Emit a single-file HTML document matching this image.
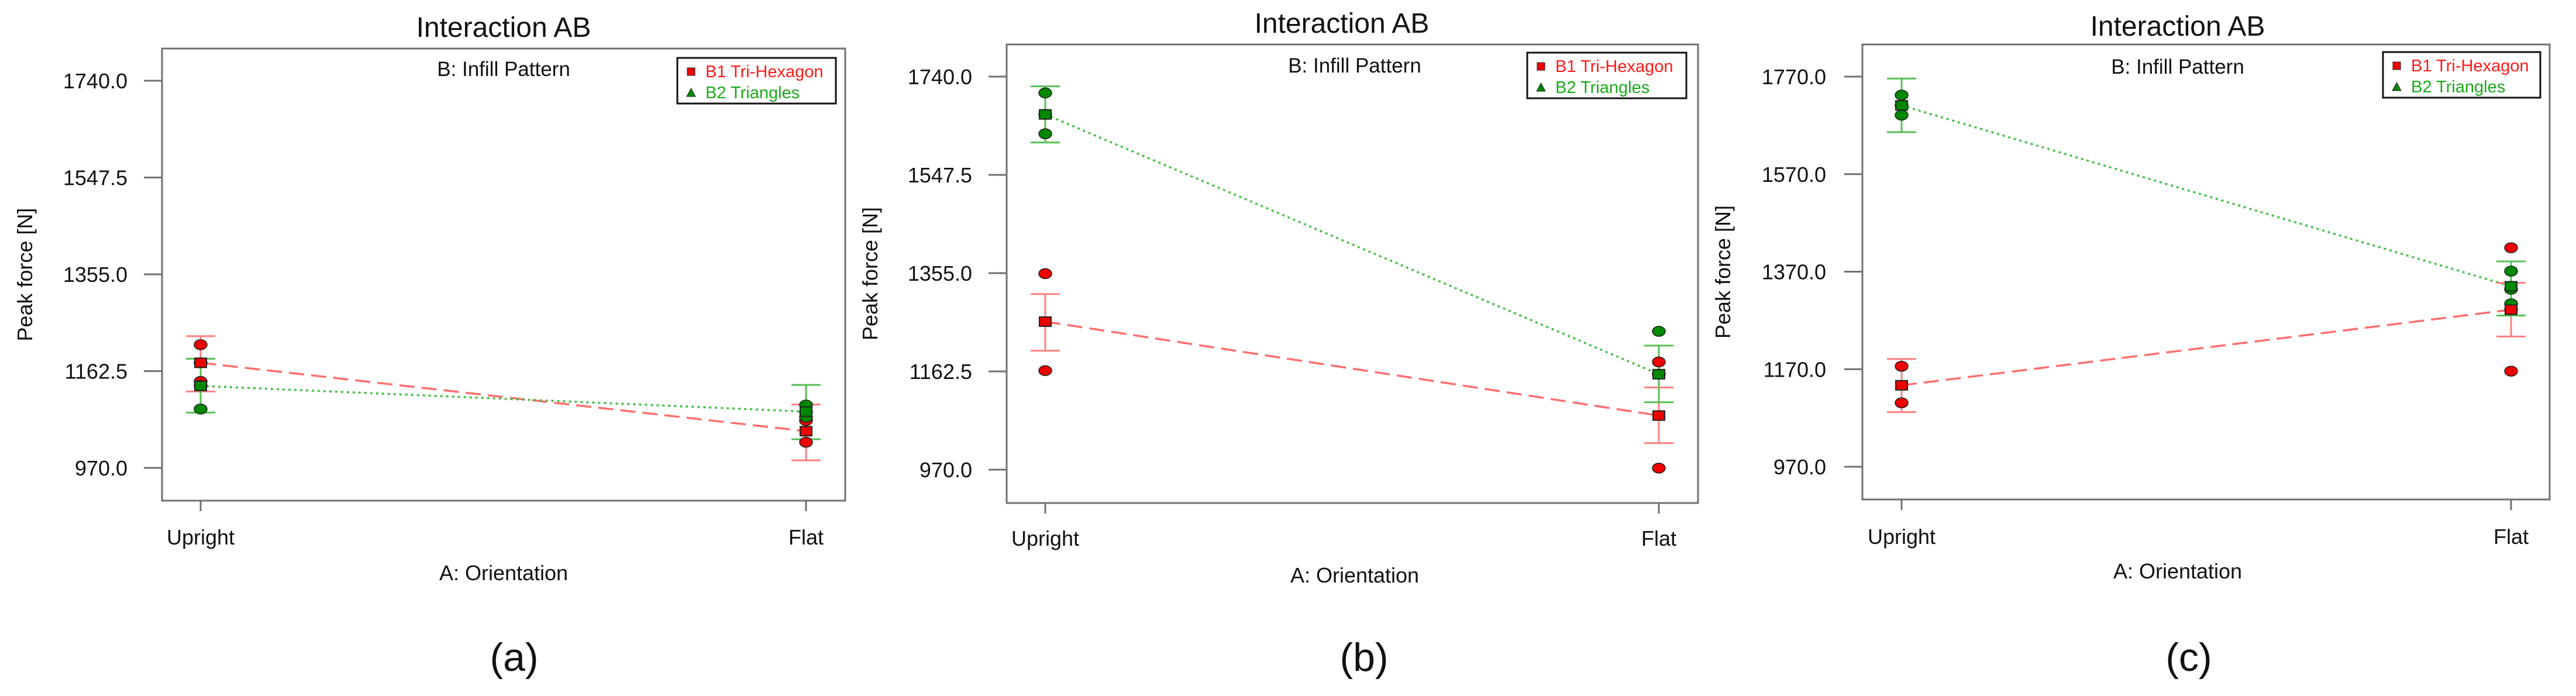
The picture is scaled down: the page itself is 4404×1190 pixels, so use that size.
<!DOCTYPE html>
<html><head><meta charset="utf-8"><style>
html,body{margin:0;padding:0;background:#fff;}
svg{display:block;font-family:"Liberation Sans",sans-serif;}
</style></head><body>
<svg id="fig" width="4404" height="1190" viewBox="0 0 4404 1190"></svg>
<script>
const categories = ["Upright", "Flat"];
const seriesNames = ["B1 Tri-Hexagon", "B2 Triangles"];
const panelLabels = ["(a)", "(b)", "(c)"];
// y-axis ticks per panel
const ticksA = [970, 1162.5, 1355, 1547.5, 1740];
const ticksB = [970, 1162.5, 1355, 1547.5, 1740];
const ticksC = [970, 1170, 1370, 1570, 1770];
// means [Upright, Flat]
const redMeanA = [1179, 1043];
const greenMeanA = [1133, 1082];
const redMeanB = [1260, 1076];
const greenMeanB = [1666, 1157];
const redMeanC = [1137, 1292];
const greenMeanC = [1711, 1340];
// error bars [lo, hi] per category
const redErrA = [[1122, 1232], [985, 1096]];
const greenErrA = [[1080, 1187], [1027, 1135]];
const redErrB = [[1203, 1314], [1022, 1131]];
const greenErrB = [[1611, 1721], [1102, 1213]];
const redErrC = [[1082, 1191], [1237, 1347]];
const greenErrC = [[1656, 1766], [1280, 1391]];
// design points per category
const redPtsA = [[1215, 1142], [1064, 1021]];
const greenPtsA = [[1179, 1134, 1087], [1095, 1081, 1071]];
const redPtsB = [[1354, 1164], [1181, 973]];
const greenPtsB = [[1708, 1666, 1628], [1241, 1157]];
const redPtsC = [[1176, 1101], [1419, 1166, 1292]];
const greenPtsC = [[1732, 1711, 1691], [1371, 1334, 1304]];

const panels = [
 {box:[277,83,1445,856], xs:[343,1378], yr:[970,1740], ypx:[800,138], ticks:ticksA, tickX:218, yTitleX:43, title:[861,46], sub:[861,118], leg:[1158,99,1429,177], xlabY:918, xtitle:[861,979], lab:[879,1123],
  rm:redMeanA, gm:greenMeanA, re:redErrA, ge:greenErrA, rp:redPtsA, gp:greenPtsA},
 {box:[1721,76,2903,860], xs:[1787,2836], yr:[970,1740], ypx:[803,131], ticks:ticksB, tickX:1662, yTitleX:1488, title:[2294,39], sub:[2316,112], leg:[2611,90,2883,168], xlabY:920, xtitle:[2316,983], lab:[2332,1123],
  rm:redMeanB, gm:greenMeanB, re:redErrB, ge:greenErrB, rp:redPtsB, gp:greenPtsB},
 {box:[3184,76,4359,854], xs:[3251,4293], yr:[970,1770], ypx:[798,131], ticks:ticksC, tickX:3122, yTitleX:2946, title:[3723,44], sub:[3723,114], leg:[4074,89,4343,167], xlabY:917, xtitle:[3723,976], lab:[3742,1123],
  rm:redMeanC, gm:greenMeanC, re:redErrC, ge:greenErrC, rp:redPtsC, gp:greenPtsC}
];
const NS = "http://www.w3.org/2000/svg";
const svg = document.getElementById("fig");
function mk(tag, attrs, parent, text){
  const e = document.createElementNS(NS, tag);
  for (const k in attrs) e.setAttribute(k, attrs[k]);
  if (text !== undefined) e.textContent = text;
  (parent || svg).appendChild(e);
  return e;
}
panels.forEach((p, pi) => {
  const g = mk("g", {});
  
  
  const yS = v => p.ypx[0] + (v - p.yr[0]) / (p.yr[1] - p.yr[0]) * (p.ypx[1] - p.ypx[0]);
  const [x0,y0,x1,y1] = p.box;
  const fr = mk("rect", {x:x0,y:y0,width:x1-x0,height:y1-y0,fill:"none",stroke:"#707070","stroke-width":3}, g);
  
  
  const t = mk("text", {x:p.title[0],y:p.title[1]+17,"font-size":48,"text-anchor":"middle",fill:"#111"}, g, "Interaction AB");
  
  
  const s = mk("text", {x:p.sub[0],y:p.sub[1]+12,"font-size":35,"text-anchor":"middle",fill:"#111"}, g, "B: Infill Pattern");
  
  
  p.ticks.forEach(v => {
    const y = yS(v);
    const tl = mk("line", {x1:x0-31,x2:x0,y1:y,y2:y,stroke:"#707070","stroke-width":3}, g);
    
    
    const tx = mk("text", {x:p.tickX,y:y+13,"font-size":36,"text-anchor":"end",fill:"#111"}, g, v.toFixed(1));
    
    
  });
  const yt = mk("text", {x:0,y:0,"font-size":36,"text-anchor":"middle",fill:"#111",transform:`translate(${p.yTitleX+12},${(y0+y1)/2}) rotate(-90)`}, g, "Peak force [N]");
  
  
  categories.forEach((c, ci) => {
    const x = p.xs[ci];
    const xl = mk("line", {x1:x,x2:x,y1:y1,y2:y1+18,stroke:"#707070","stroke-width":3}, g);
    
    
    const xt = mk("text", {x:x,y:p.xlabY+13,"font-size":36,"text-anchor":"middle",fill:"#111"}, g, c);
    
    
  });
  const xa = mk("text", {x:p.xtitle[0],y:p.xtitle[1]+13,"font-size":36,"text-anchor":"middle",fill:"#111"}, g, "A: Orientation");
  
  
  const lb = mk("text", {x:p.lab[0],y:p.lab[1]+24,"font-size":68,"text-anchor":"middle",fill:"#111"}, g, panelLabels[pi]);
  
  
  // lines
  const rl = mk("line", {x1:p.xs[0],y1:yS(p.rm[0]),x2:p.xs[1],y2:yS(p.rm[1]),stroke:"#ff6f6f","stroke-width":3.5,"stroke-dasharray":"26 12"}, g);
  
  
  const gl = mk("line", {x1:p.xs[0],y1:yS(p.gm[0]),x2:p.xs[1],y2:yS(p.gm[1]),stroke:"#44c044","stroke-width":3.5,"stroke-dasharray":"4 6"}, g);
  
  
  // error bars
  [[p.re,"#ff7f7f","b1"],[p.ge,"#55c055","b2"]].forEach(([err,col,nm]) => {
    err.forEach((e, ci) => {
      const x = p.xs[ci];
      const eg = mk("g", {stroke:col,"stroke-width":3}, g);
      
      
      mk("line", {x1:x,x2:x,y1:yS(e[0]),y2:yS(e[1])}, eg);
      mk("line", {x1:x-25,x2:x+25,y1:yS(e[0]),y2:yS(e[0])}, eg);
      mk("line", {x1:x-25,x2:x+25,y1:yS(e[1]),y2:yS(e[1])}, eg);
    });
  });
  // points
  [[p.rp,"#ee0000","b1"],[p.gp,"#008800","b2"]].forEach(([pts,col,nm]) => {
    pts.forEach((arr, ci) => {
      arr.forEach(v => {
        const el = mk("ellipse", {cx:p.xs[ci],cy:yS(v),rx:11,ry:8.5,fill:col,stroke:"#222","stroke-width":1.5}, g);
        
        
      });
    });
  });
  // mean squares
  [[p.rm,"#ee0000","b1"],[p.gm,"#008800","b2"]].forEach(([m,col,nm]) => {
    m.forEach((v, ci) => {
      const sq = mk("rect", {x:p.xs[ci]-10,y:yS(v)-8,width:20,height:16,fill:col,stroke:"#222","stroke-width":2}, g);
      
      
    });
  });
  // legend
  const [lx0,ly0,lx1,ly1] = p.leg;
  const lg = mk("g", {}, g);
  
  
  mk("rect", {x:lx0,y:ly0,width:lx1-lx0,height:ly1-ly0,fill:"#fff",stroke:"#111","stroke-width":3}, lg);
  mk("rect", {x:lx0+17,y:ly0+17,width:13,height:13,fill:"#ee0000",stroke:"#222","stroke-width":1}, lg);
  const le1 = mk("text", {x:lx0+48,y:ly0+33,"font-size":29,fill:"#ff1a1a"}, lg, seriesNames[0]);
  
  
  mk("polygon", {points:`${lx0+16},${ly0+66} ${lx0+31},${ly0+66} ${lx0+23.5},${ly0+52}`,fill:"#008800",stroke:"#222","stroke-width":1}, lg);
  const le2 = mk("text", {x:lx0+48,y:ly0+69,"font-size":29,fill:"#1aaa1a"}, lg, seriesNames[1]);
  
  
});
</script>
</body></html>
